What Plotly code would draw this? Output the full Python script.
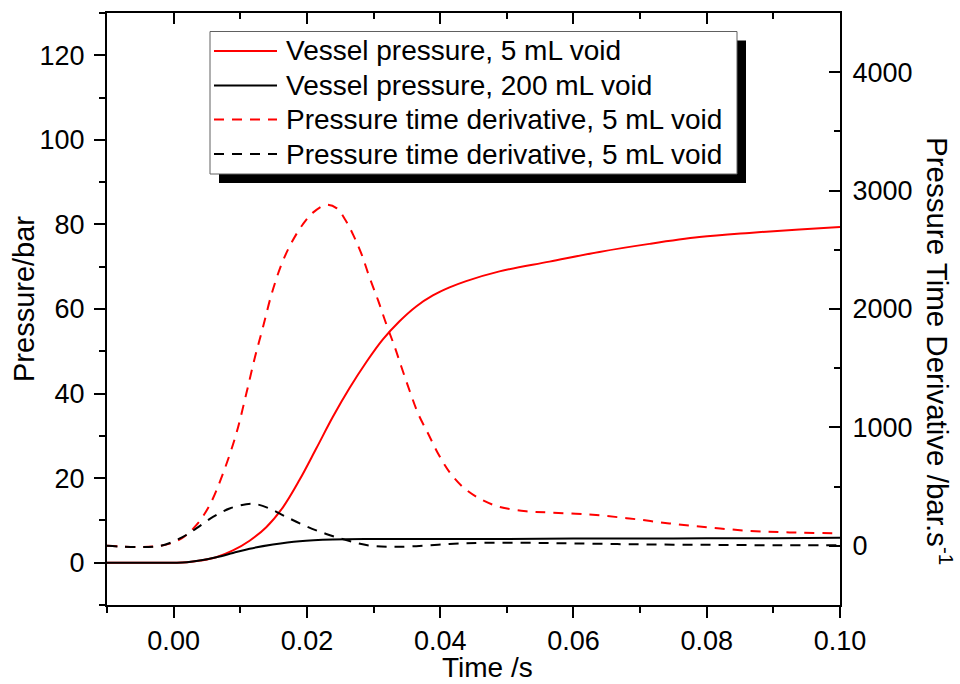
import plotly.graph_objects as go

# ---- data ----
t_p5 = [-0.01, 0.0, 0.002, 0.004, 0.0064, 0.0089, 0.0114, 0.0139, 0.0164, 0.0189, 0.0214,
        0.0239, 0.0264, 0.0289, 0.0314, 0.0339, 0.0364, 0.0389, 0.0414, 0.0439, 0.0489,
        0.0564, 0.0639, 0.0714, 0.0789, 0.0864, 0.0939, 0.1]
p5 = [0, 0, 0.1, 0.5, 1.3, 2.9, 5.2, 8.4, 13.1, 19.6, 27.0,
      34.5, 41.3, 47.4, 52.8, 57.1, 60.6, 63.2, 65.1, 66.6, 68.9,
      71.2, 73.5, 75.4, 77.0, 78.0, 78.8, 79.4]

t_p200 = [-0.01, 0.0, 0.002, 0.0039, 0.0064, 0.0089, 0.0114, 0.0149, 0.0189, 0.0239,
          0.03, 0.04, 0.05, 0.06, 0.07, 0.08, 0.09, 0.1]
p200 = [0, 0, 0.1, 0.5, 1.3, 2.3, 3.3, 4.3, 5.1, 5.5,
        5.6, 5.6, 5.6, 5.7, 5.7, 5.8, 5.8, 5.9]

t_d5 = [-0.01, -0.002, 0.0012, 0.0034, 0.0054, 0.0074, 0.0094, 0.0109, 0.0122, 0.0134,
        0.0147, 0.0162, 0.0177, 0.0194, 0.0209, 0.0229, 0.0245, 0.0258, 0.027, 0.0282,
        0.0294, 0.0307, 0.0319, 0.0332, 0.0342, 0.0354, 0.0367, 0.0382, 0.0397, 0.0414,
        0.0434, 0.0459, 0.0489, 0.0529, 0.0564, 0.0624, 0.0684, 0.0744, 0.0804, 0.0864,
        0.0924, 0.1]
d5 = [0, 0, 62, 174, 343, 610, 947, 1284, 1592, 1845,
      2126, 2379, 2561, 2716, 2814, 2880, 2850, 2750, 2620, 2463,
      2266, 2070, 1874, 1676, 1508, 1312, 1115, 947, 778, 623,
      497, 399, 329, 292, 281, 264, 231, 189, 155, 126,
      113, 105]

t_d200 = [-0.01, -0.002, 0.0014, 0.0034, 0.0059, 0.0084, 0.0109, 0.0124, 0.0144, 0.0169,
          0.0199, 0.0229, 0.0259, 0.0289, 0.0324, 0.0364, 0.0414, 0.0464, 0.054, 0.06,
          0.07, 0.08, 0.09, 0.1]
d200 = [0, 0, 76, 147, 244, 315, 351, 351, 315, 244,
        165, 100, 48, 6, -8, -3, 15, 25, 25, 20,
        12, 8, 5, 4]

names = ["Vessel pressure, 5 mL void", "Vessel pressure, 200 mL void",
         "Pressure time derivative, 5 mL void", "Pressure time derivative, 5 mL void"]
colors = ["#ff0000", "#000000", "#ff0000", "#000000"]
dashes = ["solid", "solid", "10px,8px", "10px,8px"]

FONT = "Liberation Sans, Arial, sans-serif"

# plot-area geometry (pixels) used only for placing the legend box and titles
L, R, T, B = 107, 840, 13, 605
W, H = R - L, B - T


def px(xp):
    return (xp - L) / W


def py(yp):
    return (B - yp) / H


fig = go.Figure()
series = [(t_p5, p5, "y"), (t_p200, p200, "y"), (t_d5, d5, "y2"), (t_d200, d200, "y2")]
for i, (tx, vy, ax) in enumerate(series):
    fig.add_trace(go.Scatter(x=tx, y=vy, name=names[i], mode="lines", line_shape="spline",
                             yaxis=ax, showlegend=False,
                             line=dict(color=colors[i], width=2, dash=dashes[i])))
# invisible trace for top axis
fig.add_trace(go.Scatter(x=[-0.01, 0.1], y=[None, None], xaxis="x2", showlegend=False,
                         hoverinfo="skip"))

axis_common = dict(showgrid=False, zeroline=False, showline=True, linecolor="black",
                   linewidth=2, tickcolor="black", tickwidth=2, ticklen=11,
                   automargin=False,
                   tickfont=dict(family=FONT, size=27, color="black"))
minor_common = dict(ticklen=6, tickwidth=2, tickcolor="black")

# ---- manual legend (box, shadow, samples, labels) ----
shapes = [
    dict(type="rect", xref="paper", yref="paper", x0=px(219), x1=px(746),
         y0=py(183), y1=py(40.5), fillcolor="black", line=dict(width=0), layer="above"),
    dict(type="rect", xref="paper", yref="paper", x0=px(210), x1=px(737),
         y0=py(174), y1=py(31.5), fillcolor="white", line=dict(color="#606060", width=1),
         layer="above"),
]
annotations = []
rows = [51, 85.5, 119.5, 154]
for i, ry in enumerate(rows):
    shapes.append(dict(type="line", xref="paper", yref="paper", x0=px(214), x1=px(277),
                       y0=py(ry), y1=py(ry), layer="above",
                       line=dict(color=colors[i], width=2, dash=dashes[i])))
    annotations.append(dict(text=names[i], xref="paper", yref="paper", x=px(284), y=py(ry),
                            xanchor="left", yanchor="middle", showarrow=False,
                            font=dict(family=FONT, size=28, color="black")))

# axis titles
annotations += [
    dict(text="Time /s", xref="paper", yref="paper", x=px(487), y=py(684),
         xanchor="center", yanchor="bottom", showarrow=False, borderpad=0,
         font=dict(family=FONT, size=28, color="black")),
    dict(text="Pressure/bar", xref="paper", yref="paper", x=px(24), y=py(299),
         xanchor="center", yanchor="middle", showarrow=False, textangle=-90,
         font=dict(family=FONT, size=29, color="black")),
    dict(text="Pressure Time Derivative /bar.s<sup>-1</sup>", xref="paper", yref="paper",
         x=px(940), y=py(351), xanchor="center", yanchor="middle", showarrow=False,
         textangle=90, font=dict(family=FONT, size=29.5, color="black")),
]

fig.update_layout(
    width=960, height=684,
    margin=dict(l=L, r=960 - R, t=T, b=684 - B),
    paper_bgcolor="white", plot_bgcolor="white",
    font=dict(family=FONT, color="black"),
    showlegend=False,
    xaxis=dict(range=[-0.01, 0.1], dtick=0.02, tick0=0, tickformat=".2f", ticks="outside",
               minor=dict(dtick=0.01, tick0=0, ticks="outside", **minor_common),
               **axis_common),
    xaxis2=dict(range=[-0.01, 0.1], overlaying="x", side="top", dtick=0.02, tick0=0,
                ticks="inside", showticklabels=False,
                minor=dict(dtick=0.01, tick0=0, ticks="inside", **minor_common),
                **axis_common),
    yaxis=dict(range=[-10, 130], dtick=20, tick0=0, ticks="outside", ticklabelstandoff=4,
               minor=dict(dtick=10, tick0=0, ticks="outside", **minor_common),
               **axis_common),
    yaxis2=dict(range=[-500, 4500], dtick=1000, tick0=0, ticks="inside", overlaying="y",
                side="right", ticklabelstandoff=5,
                minor=dict(dtick=500, tick0=0, ticks="inside", **minor_common),
                **axis_common),
    shapes=shapes,
    annotations=annotations,
)

fig.write_html("out.html")
